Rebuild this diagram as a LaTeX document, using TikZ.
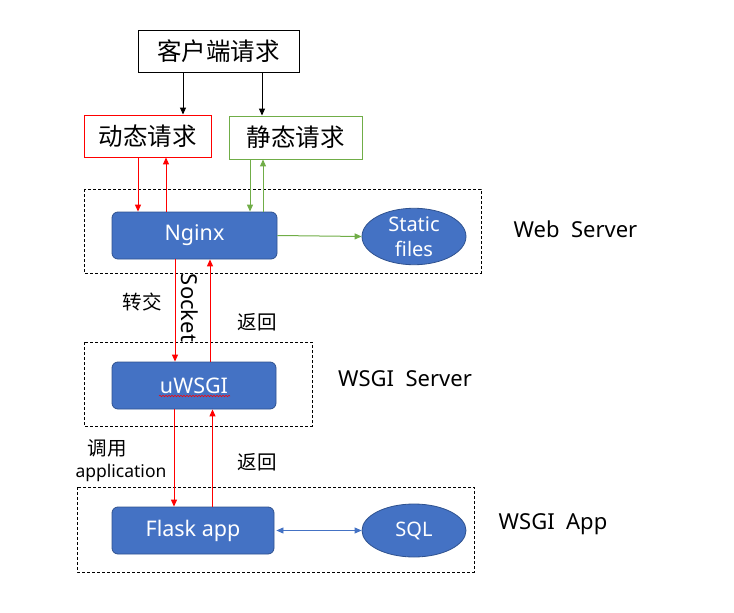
\documentclass[tikz,border=0pt]{standalone}
\usepackage{fontspec}
\setmainfont{Noto Sans}
\newfontfamily\cjk{Noto Sans CJK SC}
\usetikzlibrary{arrows.meta,shapes.geometric,decorations.pathmorphing}
\definecolor{boxblue}{HTML}{4472C4}
\definecolor{boxedge}{HTML}{2F528F}
\definecolor{myred}{HTML}{FF0000}
\definecolor{mygreen}{HTML}{70AD47}
\tikzset{
  reqbox/.style={draw,line width=0.9pt,minimum width=#1,inner sep=0pt,font=\cjk\fontsize{24.5}{28}\selectfont},
  bluebox/.style={draw=boxedge,fill=boxblue,rounded corners=6pt,line width=0.8pt,minimum height=47pt,inner sep=0pt,text=white,font=\fontsize{21.5}{24}\selectfont},
  blueell/.style={ellipse,draw=boxedge,fill=boxblue,line width=0.8pt,inner sep=0pt,text=white,align=center,font=\fontsize{20}{25}\selectfont},
  region/.style={draw,dashed,line width=0.8pt,dash pattern=on 3pt off 2pt},
  arr/.style={line width=1pt,-{Triangle[length=7pt,width=6pt]}},
  cjklabel/.style={font=\cjk\fontsize{19.5}{22}\selectfont},
  sidelabel/.style={font=\fontsize{22}{26}\selectfont},
}
\begin{document}
\begin{tikzpicture}[x=1pt,y=-1pt]
\useasboundingbox (0,0) rectangle (734,613);
% dashed regions
\draw[region] (84,189) rectangle (481,273);
\draw[region] (84,342) rectangle (312,426);
\draw[region] (77,487) rectangle (474,572);
% boxes
\node[reqbox=161pt,minimum height=42pt] (client) at (218.5,51) {客户端请求};
\node[reqbox=127pt,minimum height=42pt,draw=myred] (dyn) at (147.5,136) {动态请求};
\node[reqbox=133pt,minimum height=43pt,draw=mygreen] (sta) at (295.5,137.5) {静态请求};
\node[bluebox,minimum width=165pt] (nginx) at (194.5,235.5) {Nginx};
\node[blueell,minimum width=104pt,minimum height=47pt] (static) at (414,236.5) {Static\\files};
\node[bluebox,minimum width=164pt] (uwsgi) at (194,385.5) {uWSGI};
\node[bluebox,minimum width=162pt] (flask) at (193,530.5) {Flask app};
\node[blueell,minimum width=104pt,minimum height=53pt,font=\fontsize{20}{24}\selectfont] (sql) at (414,530.5) {SQL};
% x positions of connectors
\coordinate (xa) at (183,0);
\coordinate (xb) at (262,0);
\coordinate (xc) at (138,0);
\coordinate (xd) at (166,0);
\coordinate (xe) at (250,0);
\coordinate (xf) at (263,0);
\coordinate (xg) at (175,0);
\coordinate (xh) at (210,0);
\coordinate (xi) at (174,0);
\coordinate (xk) at (212.5,0);
% connectors
\draw[arr] (client.south -| xa) -- (dyn.north -| xa);
\draw[arr] (client.south -| xb) -- (sta.north -| xb);
\draw[arr,myred] (dyn.south -| xc) -- (nginx.north -| xc);
\draw[arr,myred] (nginx.north -| xd) -- (dyn.south -| xd);
\draw[arr,mygreen] (sta.south -| xe) -- (nginx.north -| xe);
\draw[arr,mygreen] (nginx.north -| xf) -- (sta.south -| xf);
\draw[arr,mygreen] (nginx.east) -- (static.west);
\draw[arr,myred] (nginx.south -| xg) -- (uwsgi.north -| xg);
\draw[arr,myred] (uwsgi.north -| xh) -- (nginx.south -| xh);
\draw[arr,myred] (uwsgi.south -| xi) -- (flask.north -| xi);
\draw[arr,myred] (flask.north -| xk) -- (uwsgi.south -| xk);
\draw[boxblue,line width=0.8pt,{Triangle[length=7pt,width=6pt]}-{Triangle[length=7pt,width=6pt]}] ([xshift=2pt]flask.east) -- (sql.west);
% spell-check underline
\coordinate (ul1) at (159,396);
\coordinate (ul2) at (230,396);
\draw[myred,line width=0.5pt,decorate,decoration={snake,amplitude=0.8pt,segment length=3pt}] (ul1) -- (ul2);
% labels
\node[sidelabel,rotate=-90] (socket) at (190,308) {Socket};
\node[cjklabel] (zj) at (142,302) {转交};
\node[cjklabel] (fh1) at (257,322) {返回};
\node[cjklabel] (dy) at (107,448) {调用};
\node[font=\fontsize{17.5}{20}\selectfont] (appl) at (121,473) {application};
\node[cjklabel] (fh2) at (257,462) {返回};
\node[sidelabel] (ws) at (575.5,229) {Web\ \ Server};
\node[sidelabel] (wsgis) at (405,379) {WSGI\ \ Server};
\node[sidelabel] (wsgia) at (553,524) {WSGI\ \ App};
\end{tikzpicture}
\end{document}
